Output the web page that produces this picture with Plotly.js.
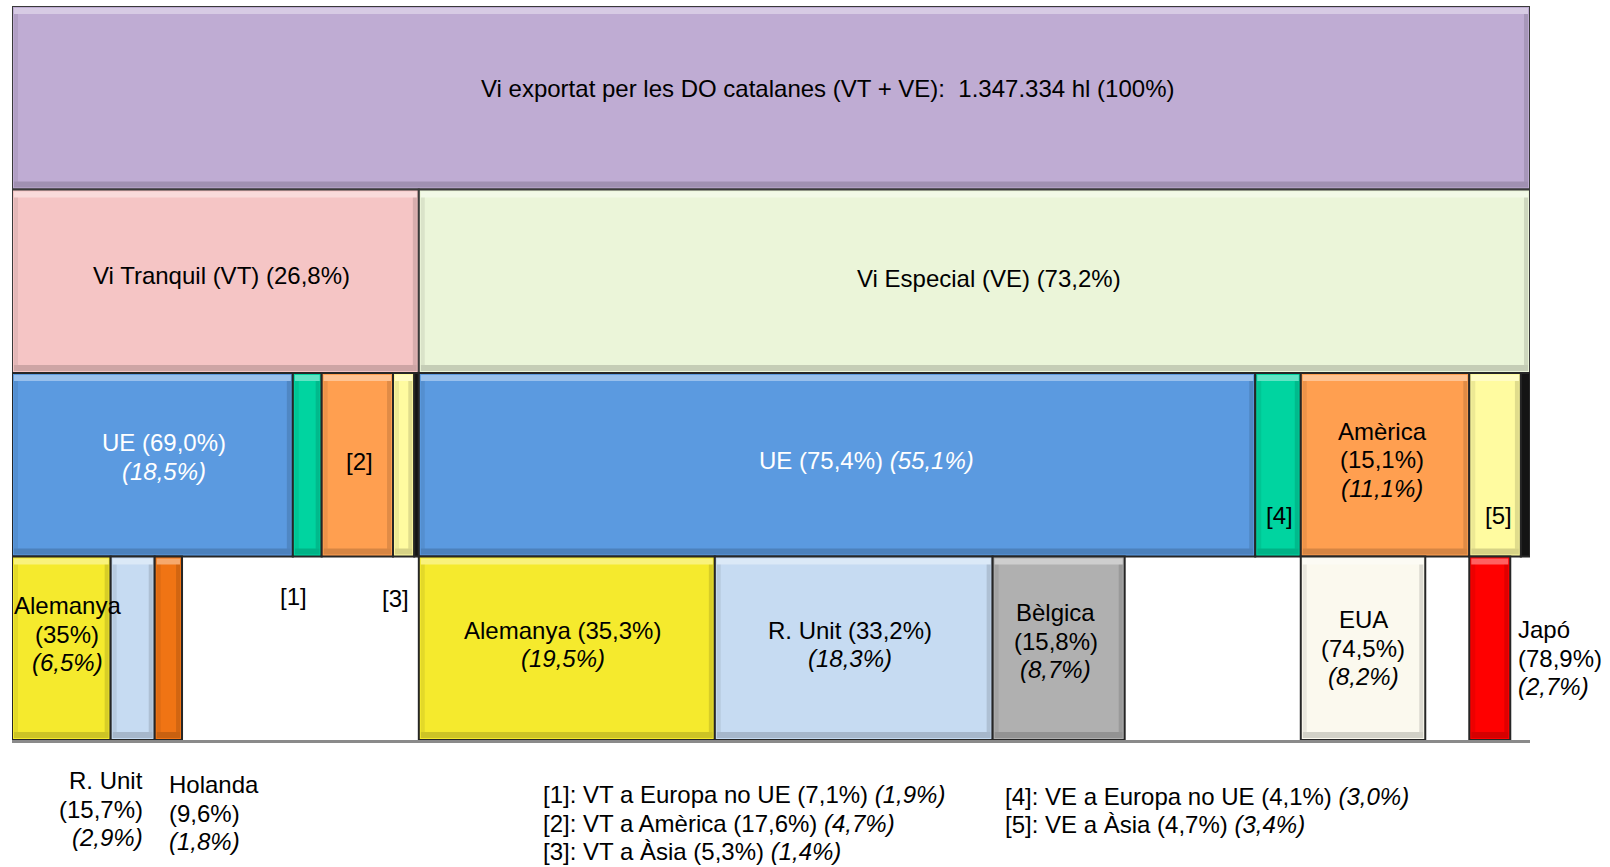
<!DOCTYPE html>
<html>
<head>
<meta charset="utf-8">
<script src="https://cdn.plot.ly/plotly-3.0.1.min.js"></script>
<style>
  html, body { margin: 0; padding: 0; background: #ffffff; }
  #chart { width: 1610px; height: 867px; }
</style>
</head>
<body>
<div id="chart"></div>
<script>
// ---------------- DATA ----------------
const totalHl = '1.347.334';
const typeNames = ['Vi Tranquil (VT)', 'Vi Especial (VE)'];
const typeShare = [26.8, 73.2];

const destNames = ['UE', 'Europa no UE', 'Amèrica', 'Àsia'];
const vtDestOfType = [69.0, 7.1, 17.6, 5.3];
const vtDestOfTotal = [18.5, 1.9, 4.7, 1.4];
const veDestOfType = [75.4, 4.1, 15.1, 4.7];
const veDestOfTotal = [55.1, 3.0, 11.1, 3.4];

const vtUeCountries = ['Alemanya', 'R. Unit', 'Holanda'];
const vtUeOfUe = [35, 15.7, 9.6];
const vtUeOfTotal = [6.5, 2.9, 1.8];

const veUeCountries = ['Alemanya', 'R. Unit', 'Bèlgica'];
const veUeOfUe = [35.3, 33.2, 15.8];
const veUeOfTotal = [19.5, 18.3, 8.7];

const veAmCountries = ['EUA'];
const veAmOfAm = [74.5];
const veAmOfTotal = [8.2];

const veAsCountries = ['Japó'];
const veAsOfAs = [78.9];
const veAsOfTotal = [2.7];

// ---------------- STYLE ----------------
const FONT = '"Liberation Sans", Arial, sans-serif';
const FS = 24;
const LH = 28.5;
const destColors = ['#5B9AE0', '#00D4A0', '#FF9F50', '#FFFBA0'];
const countryColors = {
  'Alemanya': '#F5EA2D', 'R. Unit': '#C6DBF2', 'Holanda': '#F07414',
  'Bèlgica': '#B0B0B0', 'EUA': '#FBF9EE', 'Japó': '#FF0000'
};
const otherColor = '#141414';

// plot geometry helpers (pixels per data unit) for bevel sizing
const PXX = 1518 / 100;
const PXY = 734 / 4;

function fmt(v, d) { return v.toFixed(d === undefined ? 1 : d).replace('.', ',') + '%'; }
function starts(origin, widths) {
  const s = []; let acc = origin;
  widths.forEach(w => { s.push(acc); acc += w; });
  return s;
}
function sum(a) { return a.reduce((p, c) => p + c, 0); }

const traces = [];
const bevelTraces = [];
function overlay(xs, ws, bases, hs, color) {
  bevelTraces.push({
    type: 'bar', x: xs, y: hs, base: bases, width: ws,
    marker: { color: color, line: { width: 0 } },
    hoverinfo: 'skip', showlegend: false
  });
}
function addRow(base, st, widths, colors, lineColor) {
  traces.push({
    type: 'bar',
    x: st.map((s, i) => s + widths[i] / 2),
    y: widths.map(() => 1),
    base: widths.map(() => base),
    width: widths,
    marker: { color: colors, line: { color: lineColor || '#262626', width: 2 } },
    hoverinfo: 'skip',
    showlegend: false
  });
  // bevel (only for segments wide enough)
  const idx = widths.map((w, i) => i).filter(i => widths[i] * PXX > 12);
  const b = 2 / PXX, t = 6 / PXY, side = 4 / PXX;
  const cx = idx.map(i => st[i] + widths[i] / 2);
  // top highlight
  overlay(cx, idx.map(i => widths[i] - 2 * b), idx.map(() => base + 1 - (t + 2 / PXY)),
          idx.map(() => t), 'rgba(255,255,255,0.38)');
  // bottom shadow
  overlay(cx, idx.map(i => widths[i] - 2 * b), idx.map(() => base + 2 / PXY),
          idx.map(() => t), 'rgba(0,0,0,0.16)');
  // left & right shadows
  overlay(idx.map(i => st[i] + b + side / 2), idx.map(() => side), idx.map(() => base + t + 2 / PXY),
          idx.map(() => 1 - 2 * t - 4 / PXY), 'rgba(0,0,0,0.07)');
  overlay(idx.map(i => st[i] + widths[i] - b - side / 2), idx.map(() => side), idx.map(() => base + t + 2 / PXY),
          idx.map(() => 1 - 2 * t - 4 / PXY), 'rgba(0,0,0,0.12)');
}

// Row 4 (top): total
addRow(3, [0], [100], ['#BFACD3'], '#3a3a3a');
// Row 3: type
const typeStart = starts(0, typeShare);
addRow(2, typeStart, typeShare, ['#F5C5C5', '#EBF5D9'], '#3a3a3a');
// Row 2: destinations
const vtDestStart = starts(typeStart[0], vtDestOfTotal);
const veDestStart = starts(typeStart[1], veDestOfTotal);
const vtOther = typeShare[0] - sum(vtDestOfTotal);
const veOther = typeShare[1] - sum(veDestOfTotal);
addRow(1, vtDestStart.concat([typeStart[0] + sum(vtDestOfTotal)]),
       vtDestOfTotal.concat([vtOther]), destColors.concat([otherColor]));
addRow(1, veDestStart.concat([typeStart[1] + sum(veDestOfTotal)]),
       veDestOfTotal.concat([veOther]), destColors.concat([otherColor]));
// Row 1 (bottom): countries
const vtUeStart = starts(vtDestStart[0], vtUeOfTotal);
const veUeStart = starts(veDestStart[0], veUeOfTotal);
const veAmStart = starts(veDestStart[2], veAmOfTotal);
const veAsStart = starts(veDestStart[3], veAsOfTotal);
addRow(0, vtUeStart, vtUeOfTotal, vtUeCountries.map(c => countryColors[c]));
addRow(0, veUeStart, veUeOfTotal, veUeCountries.map(c => countryColors[c]));
addRow(0, veAmStart, veAmOfTotal, veAmCountries.map(c => countryColors[c]));
addRow(0, veAsStart, veAsOfTotal, veAsCountries.map(c => countryColors[c]));

// ---------------- LABELS ----------------
const ann = [];
function label(x, y, lines, o) {
  o = o || {};
  const n = lines.length;
  lines.forEach((t, i) => {
    ann.push({
      xref: o.xref || 'x', yref: o.yref || 'y', x: x, y: y,
      text: t, showarrow: false,
      xanchor: o.xanchor || 'center', yanchor: 'middle',
      xshift: o.xshift || 0,
      yshift: (o.yshift || 0) + ((n - 1) / 2 - i) * LH,
      font: { family: FONT, size: o.size || FS, color: o.color || '#000000' }
    });
  });
}
const mid = (s, w) => s + w / 2;

// top
label(50, 3.5, [`Vi exportat per les DO catalanes (VT + VE):  ${totalHl} hl (100%)`], { xshift: 56, yshift: 9 });
// types
label(mid(typeStart[0], typeShare[0]), 2.5, [`${typeNames[0]} (${fmt(typeShare[0])})`], { xshift: 6, yshift: 6 });
label(mid(typeStart[1], typeShare[1]), 2.5, [`${typeNames[1]} (${fmt(typeShare[1])})`], { xshift: 15, yshift: 3 });
// destinations VT
label(mid(vtDestStart[0], vtDestOfTotal[0]), 1.5,
      [`${destNames[0]} (${fmt(vtDestOfType[0])})`, `<i>(${fmt(vtDestOfTotal[0])})</i>`],
      { color: '#ffffff', xshift: 12, yshift: 8 });
label(mid(vtDestStart[2], vtDestOfTotal[2]), 1.5, ['[2]'], { xshift: 2, yshift: 3 });
// destinations VE
label(mid(veDestStart[0], veDestOfTotal[0]), 1.5,
      [`${destNames[0]} (${fmt(veDestOfType[0])}) <i>(${fmt(veDestOfTotal[0])})</i>`],
      { color: '#ffffff', xshift: 29, yshift: 4 });
label(mid(veDestStart[1], veDestOfTotal[1]), 1.5, ['[4]'], { xshift: 1, yshift: -51 });
label(mid(veDestStart[2], veDestOfTotal[2]), 1.5,
      [destNames[2], `(${fmt(veDestOfType[2])})`, `<i>(${fmt(veDestOfTotal[2])})</i>`],
      { xshift: -3, yshift: 5 });
label(mid(veDestStart[3], veDestOfTotal[3]), 1.5, ['[5]'], { xshift: 3, yshift: -51 });
// markers under VT small bars
label(mid(vtDestStart[1], vtDestOfTotal[1]), 0.5, ['[1]'], { xshift: -14, yshift: 52 });
label(mid(vtDestStart[3], vtDestOfTotal[3]), 0.5, ['[3]'], { xshift: -8, yshift: 50 });
// countries VT
label(mid(vtUeStart[0], vtUeOfTotal[0]), 0.5,
      [vtUeCountries[0], `(${fmt(vtUeOfUe[0], 0)})`, `<i>(${fmt(vtUeOfTotal[0])})</i>`],
      { xshift: 6, yshift: 14 });
label(mid(vtUeStart[1], vtUeOfTotal[1]), 0,
      [vtUeCountries[1], `(${fmt(vtUeOfUe[1])})`, `<i>(${fmt(vtUeOfTotal[1])})</i>`],
      { xanchor: 'right', xshift: 12, yshift: -69 });
label(vtUeStart[2], 0,
      [vtUeCountries[2], `(${fmt(vtUeOfUe[2])})`, `<i>(${fmt(vtUeOfTotal[2])})</i>`],
      { xanchor: 'left', xshift: 12, yshift: -73 });
// countries VE
label(mid(veUeStart[0], veUeOfTotal[0]), 0.5,
      [`${veUeCountries[0]} (${fmt(veUeOfUe[0])})`, `<i>(${fmt(veUeOfTotal[0])})</i>`],
      { xshift: -4, yshift: 4 });
label(mid(veUeStart[1], veUeOfTotal[1]), 0.5,
      [`${veUeCountries[1]} (${fmt(veUeOfUe[1])})`, `<i>(${fmt(veUeOfTotal[1])})</i>`],
      { xshift: -4, yshift: 4 });
label(mid(veUeStart[2], veUeOfTotal[2]), 0.5,
      [veUeCountries[2], `(${fmt(veUeOfUe[2])})`, `<i>(${fmt(veUeOfTotal[2])})</i>`],
      { xshift: -3, yshift: 7 });
label(mid(veAmStart[0], veAmOfTotal[0]), 0.5,
      [veAmCountries[0], `(${fmt(veAmOfAm[0])})`, `<i>(${fmt(veAmOfTotal[0])})</i>`],
      { xshift: 0, yshift: 0 });
label(veAsStart[0] + veAsOfTotal[0], 0.5,
      [veAsCountries[0], `(${fmt(veAsOfAs[0])})`, `<i>(${fmt(veAsOfTotal[0])})</i>`],
      { xanchor: 'left', xshift: 6, yshift: -10 });

// notes
const px2x = px => (px - 12) / 1518;
const py2y = py => (740 - py) / 734;
const vtNotes = [1, 2, 3].map(i =>
  `[${i}]: VT a ${destNames[i]} (${fmt(vtDestOfType[i])}) <i>(${fmt(vtDestOfTotal[i])})</i>`);
const veNotes = [1, 3].map((i, k) =>
  `[${k + 4}]: VE a ${destNames[i]} (${fmt(veDestOfType[i])}) <i>(${fmt(veDestOfTotal[i])})</i>`);
label(px2x(541), py2y(823), vtNotes, { xref: 'paper', yref: 'paper', xanchor: 'left' });
label(px2x(1003), py2y(810.5), veNotes, { xref: 'paper', yref: 'paper', xanchor: 'left' });

const layout = {
  width: 1610, height: 867,
  margin: { l: 12, r: 80, t: 6, b: 127 },
  paper_bgcolor: '#ffffff', plot_bgcolor: '#ffffff',
  barmode: 'overlay',
  showlegend: false,
  font: { family: FONT, size: FS, color: '#000' },
  xaxis: {
    range: [0, 100], showgrid: false, zeroline: false, showticklabels: false,
    ticks: '', showline: true, linecolor: '#8a8a8a', linewidth: 3, fixedrange: true
  },
  yaxis: {
    range: [0, 4], showgrid: false, zeroline: false, showticklabels: false,
    ticks: '', showline: false, fixedrange: true
  },
  annotations: ann
};

Plotly.newPlot('chart', traces.concat(bevelTraces), layout, { displayModeBar: false, staticPlot: true });
</script>
</body>
</html>
